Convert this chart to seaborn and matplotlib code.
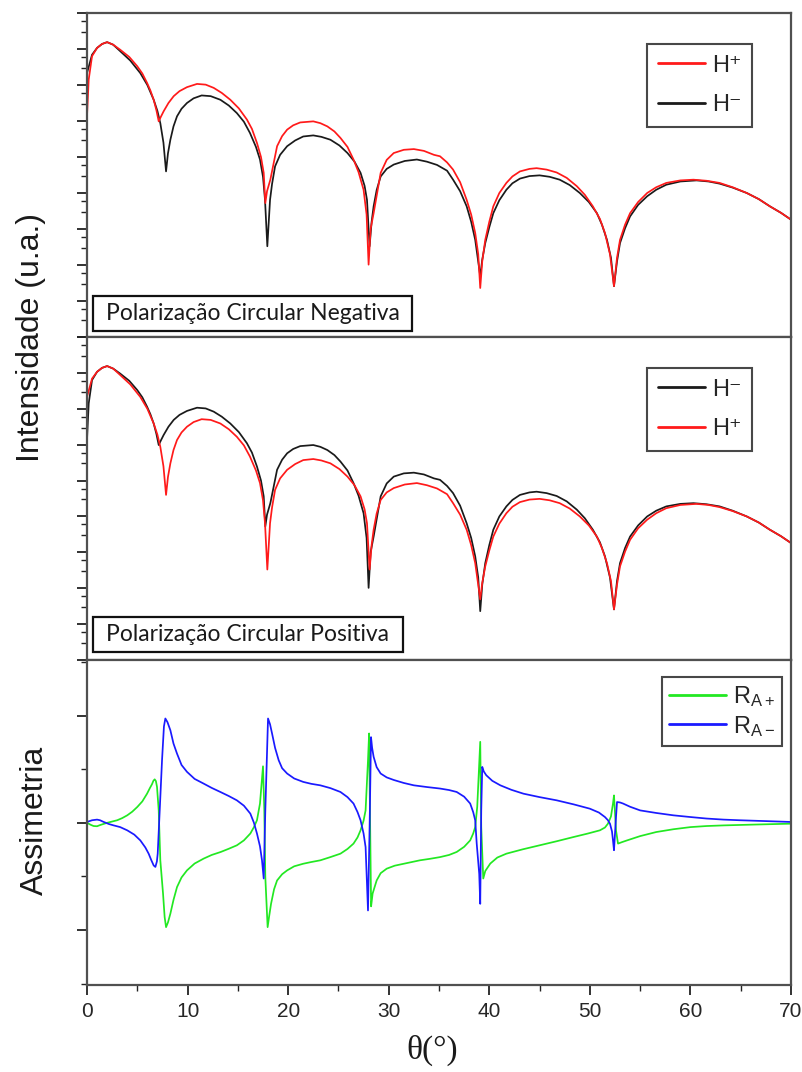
import numpy as np
import pandas as pd
import matplotlib
matplotlib.use("Agg")
import matplotlib.pyplot as plt
from matplotlib.patches import Rectangle
from matplotlib.ticker import MultipleLocator, LogLocator, NullFormatter
import seaborn as sns

# ---------------- data ----------------
# top panel: negative circular polarization, log10 of intensity (arb. units)
theta_hp_top = [0, 0.17, 0.5, 1.0, 1.5, 2.0, 2.6, 3.3, 4.2, 5.0, 5.5, 5.97, 6.3, 6.63, 6.9, 7.13,
                7.35, 7.62, 8.1, 8.62, 9.2, 9.94, 10.94, 11.8, 12.6, 13.4, 14.25, 15.1, 15.9,
                16.4, 16.9, 17.3, 17.57, 17.73, 17.9, 18.23, 18.9, 19.4, 19.9, 20.5, 21.2, 22.5,
                23.2, 23.9, 24.6, 25.2, 25.9, 26.5, 27.0, 27.5, 27.8, 28.0, 28.2, 28.5, 29.2,
                29.8, 30.5, 31.5, 32.5, 33.5, 34.5, 35.1, 35.8, 36.4, 37.1, 37.75, 38.2, 38.6,
                38.9, 39.1, 39.3, 39.6, 40.0, 40.4, 41.0, 41.7, 42.3, 43.05, 44.0, 44.7, 45.7,
                46.7, 47.7, 48.7, 49.5, 50.3, 51.0, 51.5, 52.0, 52.4, 52.7, 53.0, 53.5, 54.0,
                54.8, 55.7, 56.6, 57.6, 59.0, 60.3, 61.6, 62.9, 64.2, 65.6, 66.8, 67.9, 69.0,
                70.0]
logI_hp_top = [-2.87, -1.85, -1.20, -0.97, -0.86, -0.81, -0.88, -1.02, -1.22, -1.48, -1.68, -1.94,
               -2.15, -2.41, -2.70, -3.01, -2.88, -2.73, -2.50, -2.31, -2.17, -2.06, -1.97, -1.99,
               -2.08, -2.22, -2.41, -2.65, -2.96, -3.22, -3.61, -4.00, -4.44, -5.28, -4.95,
               -4.63, -3.70, -3.42, -3.24, -3.12, -3.04, -3.01, -3.06, -3.15, -3.29, -3.47,
               -3.72, -4.07, -4.42, -4.91, -5.60, -6.99, -6.00, -5.56, -4.44, -4.08, -3.89,
               -3.80, -3.78, -3.83, -3.94, -3.98, -4.15, -4.35, -4.70, -5.19, -5.60, -6.11,
               -6.70, -7.64, -6.90, -6.30, -5.80, -5.37, -5.00, -4.72, -4.54, -4.40, -4.33,
               -4.31, -4.35, -4.43, -4.58, -4.81, -5.05, -5.37, -5.72, -6.11, -6.70, -7.59,
               -6.80, -6.30, -5.88, -5.56, -5.25, -5.00, -4.84, -4.72, -4.65, -4.63, -4.66,
               -4.72, -4.84, -5.00, -5.17, -5.37, -5.55, -5.74]

theta_hm_top = [0, 0.5, 1.0, 1.5, 2.0, 2.6, 3.3, 4.3, 5.3, 6.0, 6.63, 7.0, 7.29, 7.6, 7.86, 8.05,
                8.29, 8.6, 8.95, 9.4, 9.94, 10.6, 11.4, 12.3, 13.26, 14.1, 14.9, 15.6, 16.2,
                16.8, 17.2, 17.5, 17.7, 17.93, 18.2, 18.4, 18.7, 19.2, 19.9, 20.7, 21.5, 22.5,
                23.3, 24.2, 25.1, 25.9, 26.6, 27.2, 27.6, 27.84, 28.1, 28.3, 28.5, 28.8, 29.2,
                29.8, 30.5, 31.6, 32.8, 33.8, 34.8, 35.8, 36.4, 37.1, 37.75, 38.2, 38.6, 39.1,
                39.3, 39.6, 40.0, 40.4, 41.0, 41.7, 42.3, 43.05, 44.0, 45.0, 46.0, 47.0, 48.0,
                49.0, 49.9, 50.7, 51.2, 51.7, 52.1, 52.4, 52.7, 53.0, 53.5, 54.0, 54.8, 55.7,
                56.6, 57.6, 59.0, 60.6, 61.8, 62.9, 64.2, 65.6, 66.8, 67.9, 69.0, 70.0]
logI_hm_top = [-1.67, -1.16, -0.97, -0.86, -0.81, -0.88, -1.06, -1.32, -1.67, -2.00, -2.41, -2.72,
               -3.06, -3.60, -4.40, -3.90, -3.52, -3.15, -2.87, -2.66, -2.50, -2.37, -2.29,
               -2.31, -2.41, -2.57, -2.78, -3.02, -3.33, -3.72, -4.07, -4.55, -5.19, -6.48,
               -5.19, -4.75, -4.26, -3.94, -3.70, -3.54, -3.43, -3.40, -3.44, -3.52, -3.68,
               -3.89, -4.13, -4.44, -4.80, -5.19, -6.48, -5.80, -5.37, -4.92, -4.54, -4.33,
               -4.21, -4.11, -4.07, -4.13, -4.22, -4.38, -4.63, -4.95, -5.37, -5.80, -6.30,
               -7.31, -6.85, -6.39, -5.95, -5.56, -5.20, -4.91, -4.73, -4.60, -4.53, -4.51,
               -4.55, -4.63, -4.78, -5.00, -5.25, -5.56, -5.88, -6.30, -6.80, -7.59, -6.90,
               -6.39, -5.98, -5.65, -5.33, -5.09, -4.91, -4.77, -4.68, -4.65, -4.68, -4.74,
               -4.85, -5.00, -5.17, -5.37, -5.55, -5.74]

# middle panel: positive circular polarization (roles of H+ / H- swapped)
theta_hm_mid = theta_hp_top
logI_hm_mid = logI_hp_top
theta_hp_mid = theta_hm_top
logI_hp_mid = logI_hm_top

# bottom panel: asymmetry
theta_rap = [0, 0.4, 0.66, 1.0, 1.33, 2.0, 2.5, 3.0, 3.5, 4.0, 4.5, 5.0, 5.5, 5.97, 6.25, 6.46,
             6.6, 6.73, 6.85, 6.96, 7.13, 7.29, 7.56, 7.72, 7.86, 8.05, 8.29, 8.6, 8.95, 9.4,
             9.94, 10.7, 11.6, 12.4, 13.3, 14.1, 14.9, 15.6, 16.24, 16.6, 16.9, 17.2, 17.5,
             17.63, 17.73, 17.96, 18.1, 18.3, 18.6, 18.9, 19.4, 19.9, 20.6, 21.5, 22.3, 23.2,
             24.2, 25.2, 25.9, 26.5, 26.9, 27.2, 27.5, 27.7, 27.94, 28.05, 28.15, 28.25, 28.4,
             28.8, 29.2, 29.8, 30.6, 31.5, 32.3, 33.1, 34.1, 35.1, 36.0, 36.76, 37.5, 38.1,
             38.4, 38.6, 38.8, 39.1, 39.2, 39.4, 39.6, 40.1, 40.8, 41.7, 43.3, 45.0, 46.7,
             48.4, 49.8, 51.0, 51.5, 51.8, 52.1, 52.3, 52.4, 52.6, 52.8, 53.2, 53.7, 55.0,
             56.6, 58.3, 60.0, 61.6, 63.3, 66.5, 70.0]
ra_plus = [0.0, -0.010, -0.015, -0.016, -0.010, 0.0, 0.006, 0.012, 0.022, 0.035, 0.052, 0.074,
           0.100, 0.136, 0.162, 0.180, 0.196, 0.203, 0.195, 0.168, 0.058, -0.175, -0.330,
           -0.440, -0.487, -0.465, -0.424, -0.360, -0.300, -0.255, -0.222, -0.190, -0.167,
           -0.150, -0.136, -0.121, -0.105, -0.082, -0.050, -0.020, 0.012, 0.090, 0.264, 0.058,
           -0.253, -0.487, -0.440, -0.378, -0.310, -0.269, -0.240, -0.222, -0.203, -0.191,
           -0.183, -0.175, -0.160, -0.144, -0.122, -0.097, -0.068, -0.035, 0.010, 0.058, 0.292,
           0.417, 0.0, -0.390, -0.330, -0.269, -0.235, -0.214, -0.200, -0.191, -0.183, -0.175,
           -0.168, -0.160, -0.150, -0.136, -0.112, -0.082, -0.050, -0.020, 0.074, 0.378,
           -0.020, -0.260, -0.225, -0.190, -0.162, -0.144, -0.124, -0.105, -0.086, -0.066,
           -0.050, -0.035, -0.022, -0.004, 0.030, 0.090, 0.128, -0.035, -0.097, -0.090,
           -0.082, -0.062, -0.043, -0.030, -0.020, -0.015, -0.012, -0.008, -0.004]

theta_ram = [0, 0.5, 1.0, 1.3, 1.66, 2.2, 2.65, 3.3, 4.0, 4.7, 5.3, 5.8, 6.13, 6.4, 6.63, 6.8,
             6.95, 7.03, 7.23, 7.46, 7.65, 7.79, 8.0, 8.29, 8.6, 8.95, 9.4, 9.94, 10.7, 11.6,
             12.4, 13.26, 14.1, 14.9, 15.6, 16.24, 16.6, 16.9, 17.2, 17.4, 17.57, 17.73, 18.0,
             18.2, 18.4, 18.7, 19.06, 19.4, 19.9, 20.6, 21.5, 22.3, 23.2, 24.2, 25.2, 25.9,
             26.5, 26.9, 27.2, 27.5, 27.7, 27.94, 28.1, 28.24, 28.35, 28.5, 28.8, 29.2, 29.8,
             30.5, 31.5, 32.5, 33.8, 35.1, 36.0, 36.76, 37.5, 38.1, 38.4, 38.6, 38.75, 39.0,
             39.1, 39.2, 39.3, 39.45, 39.7, 40.3, 41.1, 42.2, 43.4, 45.0, 46.7, 48.4, 50.0,
             50.9, 51.5, 51.8, 52.0, 52.2, 52.3, 52.4, 52.6, 52.7, 53.0, 53.3, 54.0, 55.0,
             56.6, 58.3, 60.0, 61.6, 63.3, 64.9, 67.5, 70.0]
ra_minus = [0.004, 0.012, 0.015, 0.012, 0.004, -0.006, -0.012, -0.020, -0.035, -0.055, -0.082,
            -0.115, -0.144, -0.175, -0.199, -0.206, -0.180, -0.144, 0.058, 0.292, 0.450, 0.487,
            0.470, 0.432, 0.370, 0.323, 0.270, 0.238, 0.205, 0.183, 0.163, 0.144, 0.125, 0.105,
            0.080, 0.043, 0.0, -0.050, -0.110, -0.175, -0.260, 0.058, 0.487, 0.460, 0.417,
            0.350, 0.292, 0.255, 0.230, 0.207, 0.191, 0.182, 0.175, 0.162, 0.144, 0.120, 0.090,
            0.050, 0.012, -0.050, -0.113, -0.409, -0.020, 0.400, 0.350, 0.308, 0.260, 0.230,
            0.212, 0.200, 0.186, 0.175, 0.167, 0.160, 0.153, 0.144, 0.122, 0.090, 0.050, 0.012,
            -0.097, -0.238, -0.378, 0.058, 0.261, 0.240, 0.222, 0.196, 0.175, 0.154, 0.136,
            0.120, 0.105, 0.086, 0.066, 0.048, 0.027, 0.012, -0.004, -0.040, -0.082, -0.128,
            0.027, 0.097, 0.095, 0.090, 0.075, 0.058, 0.046, 0.035, 0.027, 0.020, 0.015, 0.012,
            0.008, 0.004]

xticks = [0, 10, 20, 30, 40, 50, 60, 70]

# ---------------- styling ----------------
sns.set_theme(style="ticks")
plt.rcParams['font.family'] = ['Liberation Sans', 'DejaVu Sans']
plt.rcParams['mathtext.fontset'] = 'custom'
plt.rcParams['mathtext.rm'] = 'Liberation Sans'
plt.rcParams['mathtext.it'] = 'Liberation Sans:italic'

RED = '#ff1a1a'
BLACK = '#1a1a1a'
GREEN = '#22e822'
BLUE = '#1a1aff'
SPINE = '#505050'

LBL_HP = 'H⁺'
LBL_HM = 'H⁻'
LBL_RAP = r'$\mathrm{R}_{\mathrm{A+}}$'
LBL_RAM = r'$\mathrm{R}_{\mathrm{A-}}$'

fig = plt.figure(figsize=(8.03, 10.72), dpi=100)
L, W = 87 / 803, 704 / 803
ax1 = fig.add_axes([L, 1 - 337 / 1072, W, 324 / 1072])
ax2 = fig.add_axes([L, 1 - 660 / 1072, W, 323 / 1072], sharex=ax1)
ax3 = fig.add_axes([L, 1 - 985 / 1072, W, 325 / 1072], sharex=ax1)


def line(ax, x, y, color, label, log=False):
    df = pd.DataFrame({'x': x, 'y': (10.0 ** np.asarray(y)) if log else y})
    sns.lineplot(data=df, x='x', y='y', ax=ax, color=color, label=label,
                 estimator=None, sort=False, lw=1.25)


line(ax1, theta_hm_top, logI_hm_top, BLACK, LBL_HM, log=True)
line(ax1, theta_hp_top, logI_hp_top, RED, LBL_HP, log=True)
line(ax2, theta_hm_mid, logI_hm_mid, BLACK, LBL_HM, log=True)
line(ax2, theta_hp_mid, logI_hp_mid, RED, LBL_HP, log=True)
line(ax3, theta_rap, ra_plus, GREEN, LBL_RAP)
line(ax3, theta_ram, ra_minus, BLUE, LBL_RAM)

for ax in (ax1, ax2):
    ax.set_yscale('log')
    ax.set_ylim(1e-9, 1e0)
    ax.yaxis.set_major_locator(LogLocator(base=10, numticks=20))
    ax.yaxis.set_minor_locator(LogLocator(base=10, subs=(3.0, 6.0), numticks=20))
    ax.yaxis.set_major_formatter(NullFormatter())
    ax.yaxis.set_minor_formatter(NullFormatter())

ax3.set_ylim(-0.757, 0.76)
ax3.yaxis.set_major_locator(MultipleLocator(0.5))
ax3.yaxis.set_minor_locator(MultipleLocator(0.25))
ax3.set_yticklabels([])

for ax in (ax1, ax2, ax3):
    ax.set_xlim(0, 70)
    ax.set_xticks(xticks)
    ax.xaxis.set_minor_locator(MultipleLocator(5))
    ax.set_xlabel('')
    ax.set_ylabel('')
    for s in ax.spines.values():
        s.set_visible(True)
        s.set_color(SPINE)
        s.set_linewidth(1.6)
    ax.tick_params(axis='both', which='major', direction='out', length=7, width=1.3,
                   color='#222222', top=False, right=False)
    ax.tick_params(axis='both', which='minor', direction='out', length=4.5, width=1.0,
                   color='#222222', top=False, right=False)
    ax.set_facecolor('white')

ax1.tick_params(axis='x', labelbottom=False)
ax2.tick_params(axis='x', labelbottom=False)
ax3.tick_params(axis='x', which='major', labelsize=15, pad=5)


# legends
def legend(ax, order, anchor, hl, spacing, bpad):
    h, l = ax.get_legend_handles_labels()
    d = dict(zip(l, h))
    leg = ax.legend([d[k] for k in order], order, loc='upper right', bbox_to_anchor=anchor,
                    fontsize=17, frameon=True, fancybox=False, handlelength=hl,
                    handletextpad=0.3, labelspacing=spacing, borderpad=bpad, borderaxespad=0)
    leg.get_frame().set_edgecolor('#1a1a1a')
    leg.get_frame().set_linewidth(1.5)
    for ln in leg.get_lines():
        ln.set_linewidth(2.0)


legend(ax1, [LBL_HP, LBL_HM], (0.9446, 0.904), 2.0, 0.75, 0.45)
legend(ax2, [LBL_HM, LBL_HP], (0.9446, 0.904), 2.0, 0.75, 0.45)
legend(ax3, [LBL_RAP, LBL_RAM], (0.987, 0.948), 2.4, 0.2, 0.3)


# boxed annotations
def boxed(ax, x0, y0, x1, y1, text):
    ax.add_patch(Rectangle((x0, y0), x1 - x0, y1 - y0, transform=ax.transAxes, fill=False,
                           edgecolor='#111111', lw=1.6, zorder=5))
    ax.text((x0 + x1) / 2, (y0 + y1) / 2, text, transform=ax.transAxes, ha='center',
            va='center', fontsize=16.5, color='#1a1a1a', family=['Lato', 'DejaVu Sans'],
            zorder=6)


boxed(ax1, 6 / 704, (337 - 331) / 324, 325 / 704, (337 - 296) / 324,
      'Polarização Circular Negativa')
boxed(ax2, 6 / 704, (660 - 652) / 323, 316 / 704, (660 - 617) / 323,
      'Polarização Circular Positiva')

# axis titles
fig.text(31 / 803, 1 - 337 / 1072, 'Intensidade (u.a.)', rotation=90, ha='center', va='center',
         fontsize=23, color='#1a1a1a')
fig.text(35 / 803, 1 - 820 / 1072, 'Assimetria', rotation=90, ha='center', va='center',
         fontsize=23, color='#1a1a1a')
fig.text(432 / 803, 1 - 1050 / 1072, 'θ(°)', ha='center', va='center', fontsize=24,
         color='#1a1a1a', family=['Liberation Serif', 'DejaVu Serif'])

fig.savefig('out.png', dpi=100, facecolor='white')
